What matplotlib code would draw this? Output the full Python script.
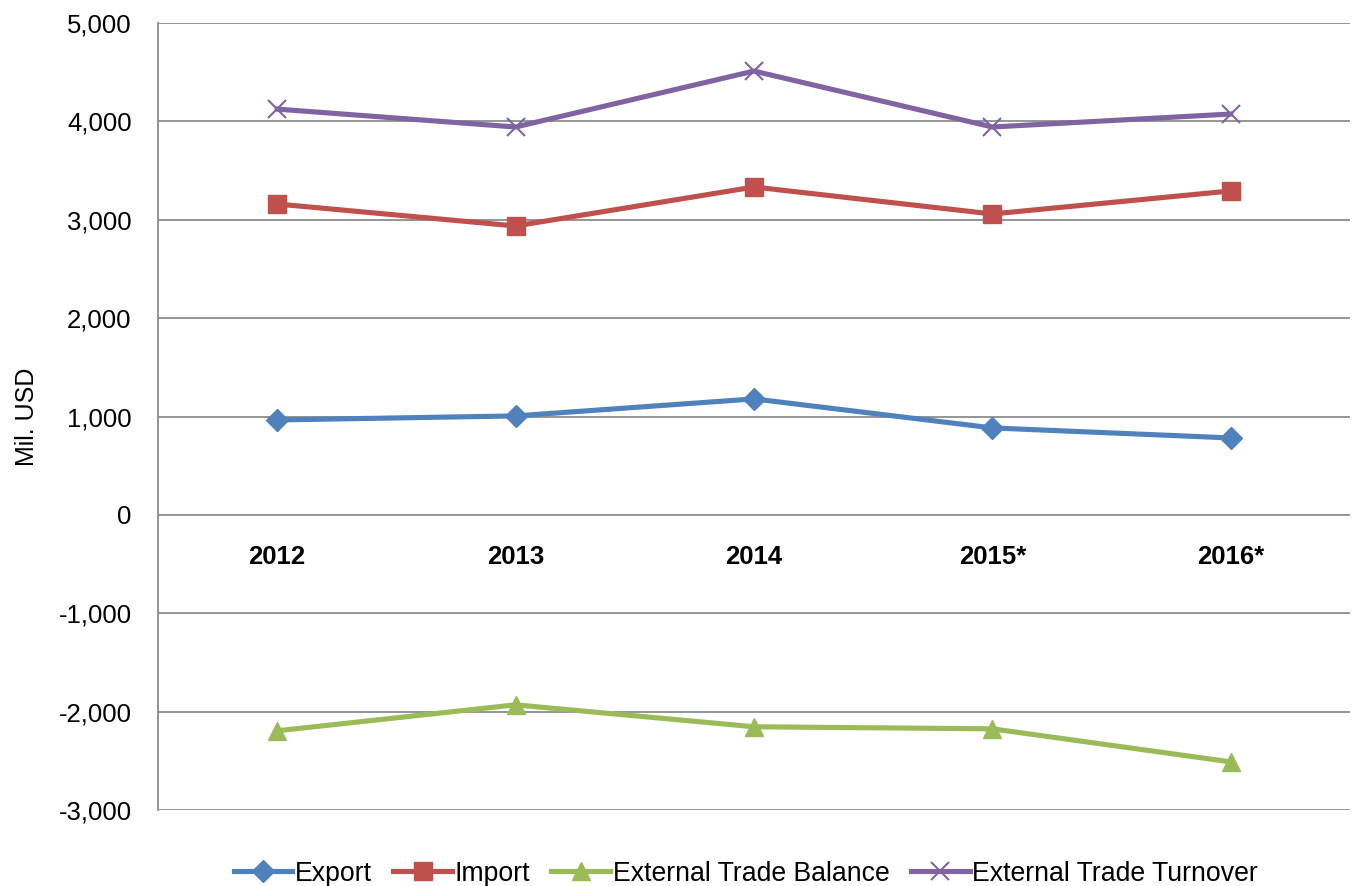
import matplotlib
matplotlib.use('Agg')
import matplotlib.pyplot as plt

plt.rcParams['font.family'] = ['Liberation Sans', 'DejaVu Sans']

years = ['2012', '2013', '2014', '2015*', '2016*']
export = [965, 1006, 1179, 884, 782]
imports = [3160, 2937, 3333, 3059, 3293]
balance = [-2195, -1931, -2154, -2175, -2511]
turnover = [4125, 3943, 4512, 3943, 4075]

fig = plt.figure(figsize=(13.56, 8.86), dpi=100)
ax = fig.add_axes([0.1165, 0.0858, 0.879, 0.8882])

x = range(len(years))
ax.plot(x, export, color='#4F81BD', linewidth=3.7, marker='D', markersize=11,
        label='Export')
ax.plot(x, imports, color='#C0504D', linewidth=3.7, marker='s', markersize=13,
        label='Import')
ax.plot(x, balance, color='#9BBB59', linewidth=3.7, marker='^', markersize=13,
        label='External Trade Balance')
ax.plot(x, turnover, color='#8064A2', linewidth=3.7, marker='x', markersize=13,
        markeredgewidth=1.5, label='External Trade Turnover')

ax.set_xlim(-0.5, len(years) - 0.5)
ax.set_ylim(-3000, 5000)
ax.set_yticks(range(-3000, 5001, 1000))
ax.set_yticklabels(['{:,}'.format(v) for v in range(-3000, 5001, 1000)], fontsize=18.5)
ax.grid(axis='y', color='#8c8c8c', linewidth=1.3)
ax.set_axisbelow(True)

ax.spines['bottom'].set_position(('data', 0))
ax.spines['bottom'].set_visible(False)
ax.spines['top'].set_visible(False)
ax.spines['right'].set_visible(False)
ax.spines['left'].set_color('#8c8c8c')
ax.spines['left'].set_linewidth(1.3)
ax.set_xticks(list(x))
ax.set_xticklabels(years, fontsize=18.5, fontweight='bold')
ax.tick_params(axis='x', length=0, pad=22)
ax.tick_params(axis='y', length=0, pad=19)

ax.set_ylabel('Mil. USD', fontsize=18, labelpad=14)

fig.legend(loc='lower center', ncol=4, frameon=False, fontsize=19.2,
           bbox_to_anchor=(0.55, -0.028), handlelength=2.2, handletextpad=0.1,
           columnspacing=0.8)

fig.savefig('out.png', dpi=100)
